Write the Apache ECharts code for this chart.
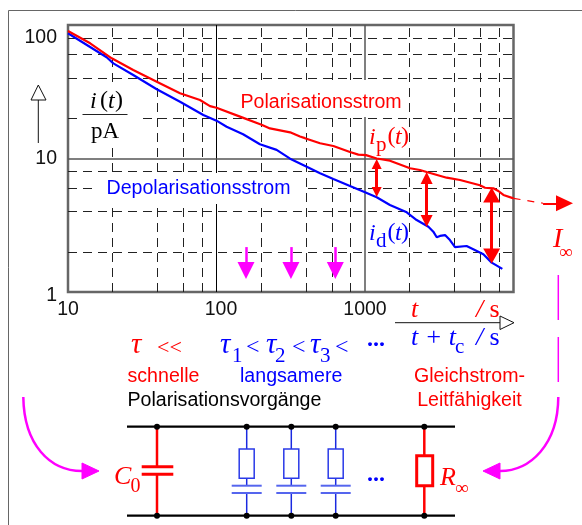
<!DOCTYPE html>
<html><head><meta charset="utf-8">
<style>html,body{margin:0;padding:0;background:#fff}#c{width:582px;height:525px}</style>
<script src="https://cdn.jsdelivr.net/npm/echarts@6/dist/echarts.min.js"></script>
</head><body><div id="c"></div>
<script>
// --- data ---
const timeTicks = [10, 100, 1000];
const currentTicks = [1, 10, 100];
const timeMinorGrid = [20,40,60,80,200,400,600,800,2000,4000,6000,8000];
const currentMinorGrid = [2,4,6,8,20,40,60,80];
const polarisationT = [10,14.1,19.7,27.5,39.6,56.8,77.4,90.4,100,144,201,229,313,365,394,498,612,792,902,1016,1199,1472,2009,2344,2600,3548,4365,5943,6427,7311,7907,8551,10000];
const polarisationI = [90.2,72.9,56.3,46.0,37.6,30.8,27.4,24.7,24.0,20.6,17.9,16.8,15.7,14.6,14.2,13.0,12.4,11.2,10.7,10.6,10.0,9.63,8.45,8.2,7.92,7.18,6.90,6.30,6.04,5.98,5.71,5.33,5.03];
const depolarisationT = [10,13.4,18.2,20.2,27.5,39.6,56.8,81.5,100,117,151,196,254,313,405,498,612,792,1000,1199,1472,1910,2228,2673,2884,3041,3199,3459,3733,4036,4831,5358,6266,7129,8410];
const depolarisationI = [86.7,70.8,57.3,51.6,42.2,33.0,26.6,21.2,19.2,17.3,15.2,12.8,11.6,9.97,8.68,7.75,7.02,6.22,5.58,5.12,4.48,3.95,3.46,3.08,2.83,2.57,2.63,2.67,2.45,2.17,2.21,2.09,1.92,1.66,1.49];
const extensionT = [10000,15800];
const extensionI = [5.03,4.62];
const timeConstantMarks = [158,317,631];
const magentaArrowI = [2.17,1.45];
const gapArrows = [
  {t:1199, from:9.09, to:5.61, size:[10,10]},
  {t:2600, from:7.14, to:3.40, size:[12,12]},
  {t:7130, from:5.33, to:1.86, size:[17,15]}
];
const limitArrow = {from:[15800,4.62], to:[22030,4.62], size:[16,17]};

const RED='#ff0000', BLUE='#0000ff', MAG='#ff00ff', INK='#000000';
const SANS='"Liberation Sans"', SERIF='"Liberation Serif"';
const zip=(a,b)=>a.map((v,i)=>[v,b[i]]);

const chart = echarts.init(document.getElementById('c'), null, {renderer:'canvas'});

function lineMarks(data, style, extra, outer){
  return Object.assign({type:'line', data:[], silent:true, animation:false, clip:false,
    markLine:Object.assign({silent:true, animation:false, symbol:'none', label:{show:false}, emphasis:{disabled:true}, lineStyle:style, data:data}, extra||{})}, outer||{});
}
const wide={xAxisIndex:1,yAxisIndex:1};
const dash={color:'#222', width:1, type:[9,6]};
const series=[
  lineMarks(timeMinorGrid.map(v=>({xAxis:v})).concat(currentMinorGrid.map(v=>({yAxis:v}))), dash, {z:1}),
  lineMarks([{xAxis:100}], {color:'#000', width:1, type:'solid'}, {z:1}),
  lineMarks([{xAxis:1000},{yAxis:10}], {color:'#555', width:1.5, type:'solid'}, {z:1}),
  {type:'line', name:'Polarisationsstrom', data:zip(polarisationT,polarisationI), showSymbol:false, clip:false, z:5, silent:true, lineStyle:{color:RED,width:2.2}, itemStyle:{color:RED}},
  {type:'line', name:'Depolarisationsstrom', data:zip(depolarisationT,depolarisationI), showSymbol:false, clip:false, z:4, silent:true, lineStyle:{color:BLUE,width:2.2}, itemStyle:{color:BLUE}},
  Object.assign({type:'line', name:'Ausblick', data:zip(extensionT,extensionI), showSymbol:false, clip:false, z:5, silent:true, lineStyle:{color:RED,width:1.2,type:[7,7]}, itemStyle:{color:RED}},wide)
];
gapArrows.forEach(a=>series.push(lineMarks([[{coord:[a.t,a.from]},{coord:[a.t,a.to]}]],
  {color:RED,width:3,type:'solid'},{symbol:['triangle','triangle'],symbolSize:a.size,itemStyle:{color:RED},z:7})));
series.push(lineMarks([[{coord:limitArrow.from},{coord:limitArrow.to}]],
  {color:RED,width:2,type:'solid'},{symbol:['none','triangle'],symbolSize:limitArrow.size,z:7},wide));
series.push(lineMarks(timeConstantMarks.map(t=>[{coord:[t,magentaArrowI[0]]},{coord:[t,magentaArrowI[1]]}]),
  {color:MAG,width:2.5,type:'solid'},{symbol:['none','triangle'],symbolSize:[17,17],z:7}));

// annotation helpers
function T(text,x,y,fill,font,align){return {type:'text',z:10,silent:true,style:{text,x,y,fill,font,align:align||'left',verticalAlign:'middle'}};}
function L(x1,y1,x2,y2,color,w,z){return {type:'line',z:z||9,silent:true,shape:{x1,y1,x2,y2},style:{stroke:color,lineWidth:w}};}
function W(x,y,w,h){return {type:'rect',z:3,silent:true,shape:{x,y,width:w,height:h},style:{fill:'#fff'}};}
function P(pts,fill,stroke){return {type:'polygon',z:9,silent:true,shape:{points:pts},style:{fill:fill,stroke:stroke||fill,lineWidth:1}};}
function Dot(x,y){return {type:'circle',z:11,silent:true,shape:{cx:x,cy:y,r:3},style:{fill:'#000'}};}

const f = s=>s+'px '+SANS;
const it = s=>'italic '+s+'px '+SERIF;
const ro = s=>s+'px '+SERIF;
const FS=19.6;
const g=[];
// outer frame
g.push({type:'polyline',z:0,silent:true,shape:{points:[[8.5,525],[8.5,10.5],[582,10.5]]},style:{stroke:'#666',lineWidth:1,fill:null}});
// label backgrounds
g.push(W(78,82,64,66), W(96,173,210,31), W(235,80,173,37));
// curve labels
g.push(T('Polarisationsstrom',240.5,103,RED,f(FS)));
g.push(T('Depolarisationsstrom',106.5,189,BLUE,f(FS)));
// y axis title
g.push(T('i',90,102,INK,it(24)), T('(',100,101,INK,ro(24)), T('t',108,102,INK,it(24)), T(')',115,101,INK,ro(24)));
g.push(L(82.5,114.5,127.5,114.5,'#222',1));
g.push(T('pA',105,132,INK,ro(23),'center'));
g.push(L(38.3,143,38.3,100,'#111',1));
g.push(P([[38.3,85],[31,100],[46,100]],'#fff','#111'));
// i_p(t), i_d(t)
g.push(T('i',369,138,RED,it(24)), T('p',376,145,RED,ro(21)), T('(',387.5,137,RED,ro(24)), T('t',395,138,RED,it(24)), T(')',401,137,RED,ro(24)));
g.push(T('i',369,234,BLUE,it(24)), T('d',376,241,BLUE,ro(21)), T('(',387.5,233,BLUE,ro(24)), T('t',395,234,BLUE,it(24)), T(')',401,233,BLUE,ro(24)));
// x axis title
g.push(T('t',411,310,RED,it(26)), T('/',476,310,RED,it(26)), T('s',489.5,310,RED,ro(26)));
g.push(L(395,322.7,500,322.7,'#111',1));
g.push(P([[514,322.7],[500,316],[500,329.5]],'#fff','#111'));
g.push(T('t + t',411,338,BLUE,it(26)), T('c',455,347,BLUE,ro(21)), T('/',476,338,BLUE,it(26)), T('s',489.5,338,BLUE,ro(26)));
// I infinity
g.push(T('I',553,240,RED,it(28)), T('∞',559,253,RED,ro(19)));
// tau row
g.push(T('τ',131,345,RED,it(29)), T('<<',157,348,RED,ro(22)));
g.push(T('τ',220,345,BLUE,it(29)), T('1',232,356,BLUE,ro(21)), T('<',246,348,BLUE,ro(24)));
g.push(T('τ',266,345,BLUE,it(29)), T('2',275,356,BLUE,ro(21)), T('<',292,348,BLUE,ro(24)));
g.push(T('τ',310,345,BLUE,it(29)), T('3',320,356,BLUE,ro(21)), T('<',335,348,BLUE,ro(24)));
g.push(T('...',376,340,BLUE,'bold 24px '+SERIF,'center'));
// descriptions
g.push(T('schnelle',127.5,377,RED,f(FS)));
g.push(T('langsamere',240,377,BLUE,f(FS)));
g.push(T('Polarisationsvorgänge',127.5,401,INK,f(FS)));
g.push(T('Gleichstrom-',469.5,377,RED,f(FS),'center'));
g.push(T('Leitfähigkeit',469.5,401,RED,f(FS),'center'));
// circuit
g.push(L(127,426.7,455,426.7,'#000',2.2), L(127,515.7,455,515.7,'#000',2.2));
[157,246.7,291.3,335.7,424.3].forEach(x=>g.push(Dot(x,426.7),Dot(x,515.7)));
// C0
g.push(L(157,427,157,466.7,RED,2.5), L(157,474.3,157,515,RED,2.5));
g.push(L(141.7,466.7,173.3,466.7,RED,3), L(141.7,474.3,173.3,474.3,RED,3));
g.push(T('C',114,477,RED,it(26)), T('0',130.5,486.5,RED,ro(20)));
// RC branches
[246.7,291.3,335.7].forEach(x=>{
  g.push(L(x,427,x,449,'#1a2ae0',1.5), L(x,478.3,x,485.7,'#1a2ae0',1.5), L(x,493,x,515,'#1a2ae0',1.5));
  g.push({type:'rect',z:9,silent:true,shape:{x:x-7.5,y:449,width:15,height:29.3},style:{fill:'#fff',stroke:'#2a3ae8',lineWidth:1.5}});
  g.push(L(x-15,485.7,x+15,485.7,'#5565ee',2), L(x-15,493,x+15,493,'#5565ee',2));
});
g.push(T('...',376,475,BLUE,'bold 24px '+SERIF,'center'));
// R infinity
g.push(L(424.3,427,424.3,455.7,RED,2.5), L(424.3,485.7,424.3,515,RED,2.5));
g.push({type:'rect',z:9,silent:true,shape:{x:416.7,y:455.7,width:16,height:30},style:{fill:'#fff',stroke:RED,lineWidth:3}});
g.push(T('R',440,478,RED,it(26)), T('∞',455,489,RED,ro(19)));
// magenta guide arrows
g.push(L(558.3,275,558.3,320,MAG,1.5), L(558.3,337,558.3,382,MAG,1.5));
g.push({type:'bezierCurve',z:9,silent:true,shape:{x1:558.3,y1:397,cpx1:558,cpy1:445,cpx2:530,cpy2:471,x2:500,y2:471},style:{stroke:MAG,lineWidth:2.5,fill:null}});
g.push(P([[483,471],[500,463],[500,479]],MAG));
g.push({type:'bezierCurve',z:9,silent:true,shape:{x1:23.3,y1:397,cpx1:24,cpy1:445,cpx2:50,cpy2:471,x2:82,y2:471},style:{stroke:MAG,lineWidth:2.5,fill:null}});
g.push(P([[99,471],[82,463],[82,479]],MAG));

const hiddenX={type:'log',logBase:10,gridIndex:1,show:false,min:10,max:28900,axisLabel:{show:false},splitLine:{show:false}};
const hiddenY={type:'log',logBase:10,gridIndex:1,show:false,min:1,max:100,axisLabel:{show:false},splitLine:{show:false}};
chart.setOption({
  animation:false,
  backgroundColor:'#fff',
  textStyle:{fontFamily:SANS},
  grid:[
    {show:true,left:68,right:68.5,top:25,height:267,borderColor:'#666',borderWidth:2.5,backgroundColor:'transparent',containLabel:false},
    {show:false,left:68,width:514,top:25,height:267}
  ],
  xAxis:[{type:'log',logBase:10,min:10,max:10000,
    axisLine:{show:false},axisTick:{show:false},splitLine:{show:false},minorSplitLine:{show:false},
    axisLabel:{margin:8,color:'#111',fontSize:19.5,fontFamily:SANS,
      formatter:v=>{const r=Math.round(v); if(!timeTicks.includes(r))return ''; return r===100?'{b|'+r+'}':'{a|'+r+'}';},
      rich:{a:{fontSize:19.5,fontFamily:SANS,color:'#111'},b:{fontSize:19.5,fontFamily:SANS,color:'#111',padding:[0,0,0,9]}}}},hiddenX],
  yAxis:[{type:'log',logBase:10,min:1,max:100,
    axisLine:{show:false},axisTick:{show:false},splitLine:{show:false},minorSplitLine:{show:false},
    axisLabel:{margin:11,color:'#111',fontSize:19.5,fontFamily:SANS,
      formatter:v=>{const r=Math.round(v); if(!currentTicks.includes(r))return ''; return r===100?'{t|100}':(r===1?'{o|1}':'{a|'+r+'}');},
      rich:{a:{fontSize:19.5,fontFamily:SANS,color:'#111'},t:{fontSize:19.5,fontFamily:SANS,color:'#111',padding:[26,0,0,0]},o:{fontSize:19.5,fontFamily:SANS,color:'#111',padding:[8,0,0,0]}}}},hiddenY],
  series:series,
  graphic:{elements:g}
});
</script></body></html>
